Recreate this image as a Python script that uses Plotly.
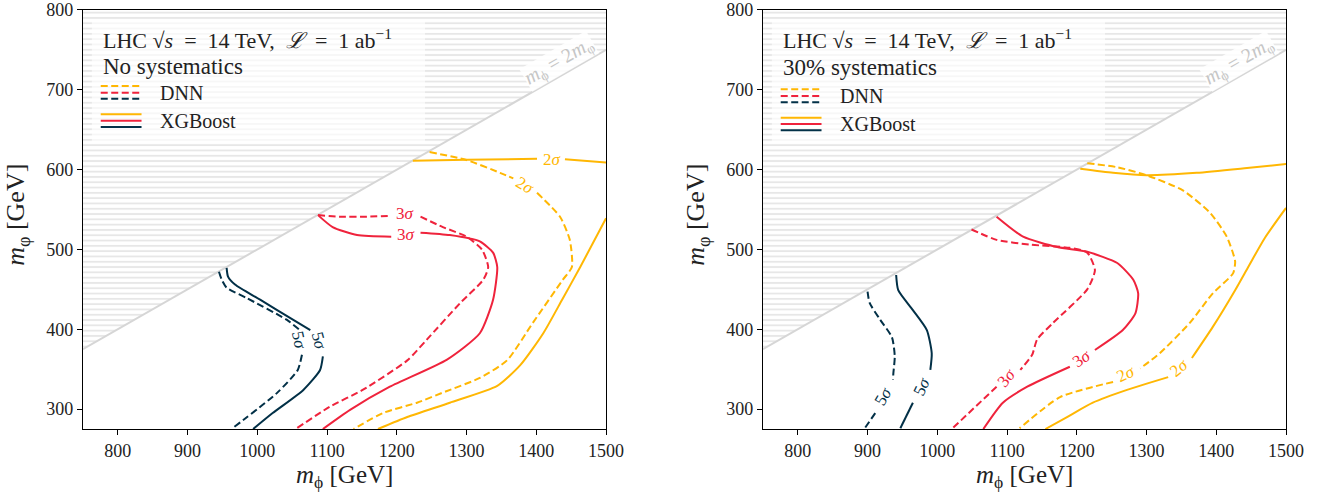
import plotly.graph_objects as go

# ---------------- data ----------------
panels = ["No systematics", "30% systematics"]
x_ticks = [800, 900, 1000, 1100, 1200, 1300, 1400, 1500]
y_ticks = [300, 400, 500, 600, 700, 800]
x_range = [750, 1500]
y_range = [275, 800]

# Left panel: no systematics  (None = break for inline label)
nosys_xgb_2s_a_x = [1223, 1300, 1401, None, 1441, 1500]
nosys_xgb_2s_a_y = [611, 612.5, 613.5, None, 613, 609]
nosys_xgb_2s_b_x = [1173, 1215, 1276, 1344, 1377, 1410, 1437, 1463, 1500]
nosys_xgb_2s_b_y = [275, 290, 308, 329, 355, 395, 437, 478, 539]
nosys_dnn_2s_x = [1247, 1300, 1348, 1367, None, 1401, 1434, 1448, 1451, 1438, 1395, 1358, 1319, 1270, 1229, 1180, 1138]
nosys_dnn_2s_y = [622, 612, 596, 589, None, 571, 541, 512, 478, 462, 408, 361, 339, 322, 308, 295, 275]
nosys_xgb_3s_x = [1087, 1108, 1143, 1192, None, 1234, 1276, 1319, 1338, 1344, 1338, 1319, 1272, 1190, 1133, 1094]
nosys_xgb_3s_y = [543, 528, 518, 516, None, 521, 518, 510, 496, 478, 437, 395, 362, 328, 299, 275]
nosys_dnn_3s_x = [1087, 1118, 1157, 1187, None, 1234, 1266, 1300, 1322, 1331, 1324, 1291, 1243, 1215, 1151, 1104, 1055]
nosys_dnn_3s_y = [543, 541, 541, 542, None, 541, 528, 516, 500, 478, 462, 433, 387, 361, 324, 303, 275]
nosys_xgb_5s_x = [956, 958, 968, 1004, 1051, 1076, None, 1094, 1090, 1066, 1022, 994]
nosys_xgb_5s_y = [477, 466, 456, 437, 412, 399, None, 366, 349, 324, 295, 275]
nosys_dnn_5s_x = [945, 949, 956, 985, 1042, 1061, None, 1064, 1058, 1028, 963]
nosys_dnn_5s_y = [472, 462, 452, 439, 412, 399, None, 368, 349, 320, 275]

# Right panel: 30% systematics
sys_xgb_2s_a_x = [1205, 1252, 1300, 1372, 1444, 1500]
sys_xgb_2s_a_y = [601, 596, 593, 596, 602, 607]
sys_xgb_2s_b_x = [1155, 1186, 1223, 1272, 1331, None, 1365, 1395, 1427, 1447, 1470, 1500]
sys_xgb_2s_b_y = [275, 290, 308, 324, 340, None, 364, 403, 449, 480, 515, 552]
sys_dnn_2s_x = [1215, 1258, 1300, 1352, 1391, 1415, 1427, 1424, 1395, 1362, 1319, 1291, None, 1252, 1176, 1118]
sys_dnn_2s_y = [608, 603, 593, 574, 546, 516, 485, 470, 445, 408, 370, 351, None, 334, 315, 276]
sys_xgb_3s_x = [1085, 1123, 1172, 1215, 1258, 1281, 1288, 1284, 1266, 1226, None, 1190, 1129, 1094, 1066]
sys_xgb_3s_y = [541, 516, 503, 497, 483, 462, 445, 420, 399, 374, None, 353, 328, 308, 275]
sys_dnn_3s_x = [1049, 1085, 1133, 1190, 1215, 1226, 1215, 1166, 1143, 1136, 1119, None, 1085, 1022]
sys_dnn_3s_y = [525, 512, 506, 502, 496, 474, 450, 408, 387, 368, 349, None, 328, 276]
sys_xgb_5s_x = [941, 944, 965, 985, 992, 990, None, 965, 947]
sys_xgb_5s_y = [468, 449, 424, 399, 370, 349, None, 308, 276]
sys_dnn_5s_x = [900, 903, 918, 935, 939, 937, 936.5, None, 911, 896]
sys_dnn_5s_y = [447, 433, 412, 390, 366, 345, 337, None, 295, 276]

# inline contour labels: (x, y, sigma, angle)
nosys_labels = [(1422, 613, "2", 0), (1384, 580, "2", 30),
                (1213, 519, "3", 0), (1212, 545, "3", 0),
                (1089, 385, "5", 75), (1060, 386, "5", 78)]
sys_labels = [(1347, 352, "2", -40), (1271, 344, "2", -25),
              (1207, 363, "3", -35), (1100, 339, "3", -50),
              (978, 328, "5", -65), (922, 316, "5", -60)]

# ---------------- style ----------------
ORANGE = "#ffb703"
RED = "#ef233c"
NAVY = "#023047"
GRAY = "#d6d6d6"
FONT = "Liberation Serif"
DASH = "7px,3.5px"
LW = 2
col = {"2": ORANGE, "3": RED, "5": NAVY}

fig = go.Figure()

def add_line(x, y, color, dashed, xa, ya):
    fig.add_trace(go.Scatter(
        x=x, y=y, mode="lines", xaxis=xa, yaxis=ya, showlegend=False,
        hoverinfo="skip", connectgaps=False,
        line=dict(color=color, width=LW, dash=DASH if dashed else "solid",
                  shape="spline", smoothing=0.6)))

# kinematic boundary m_phi = 2 m_varphi
bx = list(x_range)
by = [v / 2 for v in bx]
for xa, ya in [("x", "y"), ("x2", "y2")]:
    fig.add_trace(go.Scatter(
        x=bx + [bx[1], bx[0], bx[0]], y=by + [y_range[1], y_range[1], by[0]],
        mode="lines", fill="toself", xaxis=xa, yaxis=ya, showlegend=False,
        hoverinfo="skip", line=dict(width=0, color="rgba(0,0,0,0)"),
        fillcolor="white",
        fillpattern=dict(shape="-", fgcolor="#cfcfcf", bgcolor="white", size=5.3, solidity=0.35)))
    fig.add_trace(go.Scatter(x=bx, y=by, mode="lines", xaxis=xa, yaxis=ya,
                             showlegend=False, hoverinfo="skip",
                             line=dict(color=GRAY, width=2)))

left = [
    (nosys_xgb_2s_a_x, nosys_xgb_2s_a_y, ORANGE, False),
    (nosys_xgb_2s_b_x, nosys_xgb_2s_b_y, ORANGE, False),
    (nosys_dnn_2s_x, nosys_dnn_2s_y, ORANGE, True),
    (nosys_xgb_3s_x, nosys_xgb_3s_y, RED, False),
    (nosys_dnn_3s_x, nosys_dnn_3s_y, RED, True),
    (nosys_xgb_5s_x, nosys_xgb_5s_y, NAVY, False),
    (nosys_dnn_5s_x, nosys_dnn_5s_y, NAVY, True),
]
right = [
    (sys_xgb_2s_a_x, sys_xgb_2s_a_y, ORANGE, False),
    (sys_xgb_2s_b_x, sys_xgb_2s_b_y, ORANGE, False),
    (sys_dnn_2s_x, sys_dnn_2s_y, ORANGE, True),
    (sys_xgb_3s_x, sys_xgb_3s_y, RED, False),
    (sys_dnn_3s_x, sys_dnn_3s_y, RED, True),
    (sys_xgb_5s_x, sys_xgb_5s_y, NAVY, False),
    (sys_dnn_5s_x, sys_dnn_5s_y, NAVY, True),
]
for x, y, c, d in left:
    add_line(x, y, c, d, "x", "y")
for x, y, c, d in right:
    add_line(x, y, c, d, "x2", "y2")

annotations = []
shapes = []
for labels, xr, yr in [(nosys_labels, "x", "y"), (sys_labels, "x2", "y2")]:
    for lx, ly, n, ang in labels:
        annotations.append(dict(x=lx, y=ly, xref=xr, yref=yr, text=f"{n}<i>σ</i>",
                                showarrow=False, textangle=ang,
                                xanchor="center", yanchor="middle",
                                font=dict(family=FONT, size=17, color=col[n])))
    # boundary label
    annotations.append(dict(x=1432, y=736, xref=xr, yref=yr,
                            text="<i>m</i><sub>ϕ</sub> = 2<i>m</i><sub>φ</sub>",
                            showarrow=False, textangle=-30, borderpad=0,
                            bgcolor="rgba(255,255,255,0.85)",
                            xanchor="center", yanchor="middle",
                            font=dict(family=FONT, size=20, color="#c6c6c6")))

for i, (title, xr, yr) in enumerate([(panels[0], "x domain", "y domain"),
                                      (panels[1], "x2 domain", "y2 domain")]):
    off = 0 if i == 0 else -0.008
    shapes.append(dict(type="rect", xref=xr, yref=yr, x0=0.017, x1=0.654, y0=0.685, y1=0.976,
                       fillcolor="rgba(255,255,255,0.65)", line=dict(width=0), layer="above"))
    annotations.append(dict(x=0.034, y=0.931, xref=xr, yref=yr, xanchor="left", yanchor="middle",
                            text="LHC √<i>s</i>  =  14 TeV,  <i>ℒ</i>  =  1 ab<sup>−1</sup>",
                            showarrow=False, font=dict(family=FONT, size=22, color="#222")))
    annotations.append(dict(x=0.034, y=0.866 + off / 2, xref=xr, yref=yr, xanchor="left",
                            yanchor="middle", text=title, showarrow=False,
                            font=dict(family=FONT, size=23, color="#222")))
    annotations.append(dict(x=0.143, y=0.803 + off, xref=xr, yref=yr, xanchor="left",
                            yanchor="middle", text="DNN", showarrow=False,
                            font=dict(family=FONT, size=20, color="#222")))
    annotations.append(dict(x=0.143, y=0.736 + off, xref=xr, yref=yr, xanchor="left",
                            yanchor="middle", text="XGBoost", showarrow=False,
                            font=dict(family=FONT, size=20, color="#222")))
    for yy, c in zip([0.8186, 0.8026, 0.788], [ORANGE, RED, NAVY]):
        shapes.append(dict(type="line", xref=xr, yref=yr, x0=0.034, x1=0.112,
                           y0=yy + off, y1=yy + off, layer="above",
                           line=dict(color=c, width=2, dash="7px,3.5px")))
    for yy, c in zip([0.751, 0.7358, 0.7208], [ORANGE, RED, NAVY]):
        shapes.append(dict(type="line", xref=xr, yref=yr, x0=0.034, x1=0.112,
                           y0=yy + off, y1=yy + off, layer="above",
                           line=dict(color=c, width=2)))
    # axis titles
    annotations.append(dict(x=0.5, y=-0.113, xref=xr, yref=yr, xanchor="center",
                            yanchor="middle", showarrow=False,
                            text="<i>m</i><sub>ϕ</sub> [GeV]",
                            font=dict(family=FONT, size=25, color="#222")))
    annotations.append(dict(x=-0.125, y=0.51, xref=xr, yref=yr, xanchor="center",
                            yanchor="middle", showarrow=False, textangle=-90,
                            text="<i>m</i><sub>φ</sub> [GeV]",
                            font=dict(family=FONT, size=26, color="#222")))

axis_common = dict(showgrid=False, zeroline=False, showline=True, mirror=True,
                   linecolor="black", linewidth=1.3, ticks="outside", ticklen=5,
                   tickwidth=1.2, tickcolor="black", automargin=False,
                   tickfont=dict(family=FONT, size=18, color="#222"))

fig.update_layout(
    width=1325, height=492, margin=dict(l=0, r=0, t=0, b=0),
    plot_bgcolor="white", paper_bgcolor="white", showlegend=False,
    xaxis=dict(domain=[0.0626, 0.4574], range=x_range, tickvals=x_ticks, anchor="y",
               **axis_common),
    yaxis=dict(domain=[0.128, 0.9797], range=y_range, tickvals=y_ticks, anchor="x",
               **axis_common),
    xaxis2=dict(domain=[0.5758, 0.9706], range=x_range, tickvals=x_ticks, anchor="y2",
                **axis_common),
    yaxis2=dict(domain=[0.128, 0.9797], range=y_range, tickvals=y_ticks, anchor="x2",
                **axis_common),
    annotations=annotations, shapes=shapes,
)

fig.write_html("out.html", config={"displayModeBar": False},
               post_script="document.body.style.margin='0';")
